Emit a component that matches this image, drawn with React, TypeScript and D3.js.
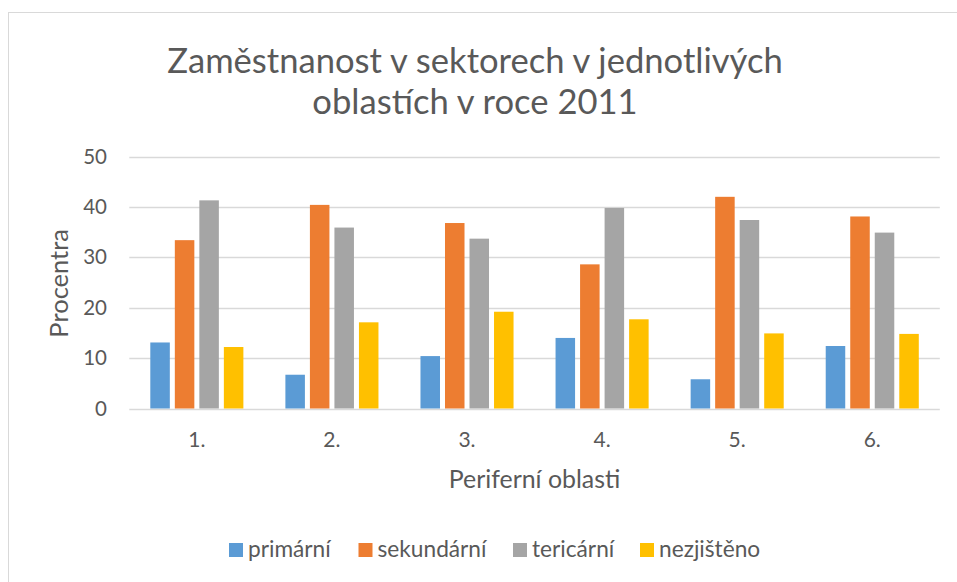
import React from "react";
import * as d3 from "d3";

const categories = ["1.", "2.", "3.", "4.", "5.", "6."];
const seriesNames = ["primární", "sekundární", "tericární", "nezjištěno"];
const primarni = [13.1, 6.7, 10.4, 14.0, 5.8, 12.4];
const sekundarni = [33.4, 40.4, 36.8, 28.6, 42.0, 38.1];
const tericarni = [41.3, 35.9, 33.7, 39.8, 37.4, 34.9];
const nezjisteno = [12.2, 17.1, 19.2, 17.7, 14.9, 14.8];
const yTicks = [0, 10, 20, 30, 40, 50];
const colors = ["#5b9bd5", "#ed7d31", "#a5a5a5", "#ffc000"];

const W = 957;
const H = 582;
const FONT = "Lato, 'Open Sans', sans-serif";
const TXT = "#595959";

export default function App() {
  const values = [primarni, sekundarni, tericarni, nezjisteno];
  const plotL = 129.3;
  const plotR = 939.8;
  const y = d3.scaleLinear().domain([0, 50]).range([408.5, 156.5]);
  const x0 = d3
    .scaleBand<string>()
    .domain(categories)
    .range([plotL, plotR])
    .paddingInner(0.311)
    .paddingOuter(0.1555);
  const x1 = d3
    .scaleBand<string>()
    .domain(seriesNames)
    .range([0, x0.bandwidth()])
    .paddingInner(0.204);

  const legendFont = 22.7;
  const legendX = [229, 358.5, 513, 640];

  return (
    <svg
      width={W}
      height={H}
      style={{ position: "absolute", left: 0, top: 0, display: "block" }}
      fontFamily={FONT}
    >
      <rect x={0} y={0} width={W} height={H} fill="#fff" />
      <rect x={8.5} y={12.5} width={970} height={590} fill="#fff" stroke="#d9d9d9" strokeWidth={1} />

      <text x={475} y={73.3} textAnchor="middle" fontSize={34.6} fill={TXT}>
        Zaměstnanost v sektorech v jednotlivých
      </text>
      <text x={475} y={114} textAnchor="middle" fontSize={34.6} fill={TXT}>
        oblastích v roce 2011
      </text>

      {yTicks.map((t) => (
        <g key={t}>
          <line
            x1={plotL}
            x2={plotR}
            y1={Math.round(y(t)) + 0.5}
            y2={Math.round(y(t)) + 0.5}
            stroke="#d9d9d9"
            strokeWidth={1.3}
          />
          <text x={107} y={y(t) + 7} textAnchor="end" fontSize={20.5} fill={TXT}>
            {t}
          </text>
        </g>
      ))}

      {categories.map((c, i) => (
        <g key={c} transform={`translate(${x0(c)},0)`}>
          {seriesNames.map((s, j) => (
            <rect
              key={s}
              x={x1(s)}
              y={y(values[j][i])}
              width={x1.bandwidth()}
              height={y(0) - y(values[j][i])}
              fill={colors[j]}
            />
          ))}
          <text
            x={x0.bandwidth() / 2}
            y={446.7}
            textAnchor="middle"
            fontSize={21}
            fill={TXT}
          >
            {c}
          </text>
        </g>
      ))}

      <text x={(plotL + plotR) / 2} y={488.3} textAnchor="middle" fontSize={24.9} fill={TXT}>
        Periferní oblasti
      </text>
      <text
        transform={`translate(68.3,283.3) rotate(-90)`}
        textAnchor="middle"
        fontSize={25.5}
        fill={TXT}
      >
        Procentra
      </text>

      {seriesNames.map((s, j) => (
        <g key={s}>
          <rect x={legendX[j]} y={543} width={14} height={14} fill={colors[j]} />
          <text x={legendX[j] + 19} y={556.5} fontSize={legendFont} fill={TXT}>
            {s}
          </text>
        </g>
      ))}
    </svg>
  );
}
